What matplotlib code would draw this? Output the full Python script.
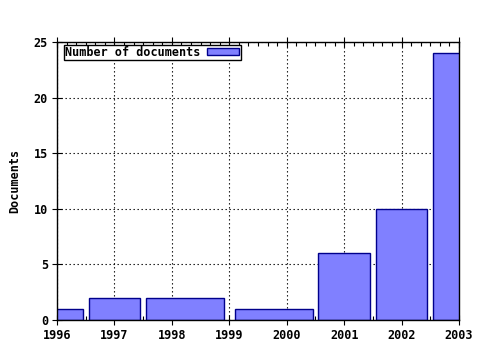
import matplotlib.pyplot as plt
import numpy as np

years = [1996, 1997, 1998.23, 1999.78, 2001, 2002, 2003]
widths = [0.9, 0.9, 1.36, 1.36, 0.9, 0.9, 0.9]
documents = [1, 2, 2, 1, 6, 10, 24]
year_ticks = [1996, 1997, 1998, 1999, 2000, 2001, 2002, 2003]
doc_ticks = [0, 5, 10, 15, 20, 25]

font = {'family': 'DejaVu Sans Mono', 'weight': 'bold', 'size': 8.5}
plt.rcParams['font.family'] = 'DejaVu Sans Mono'
plt.rcParams['font.weight'] = 'bold'
plt.rcParams['font.size'] = 8.5

fig = plt.figure(figsize=(4.8, 3.5), dpi=100)
ax = fig.add_axes([57/480, 1 - 320/350, 402/480, 278/350])

ax.bar(years, documents, width=widths, color='#8080ff', edgecolor='#00008b',
       linewidth=1, label='Number of documents', zorder=3)

ax.set_xlim(1996, 2003)
ax.set_ylim(0, 25)
ax.set_xticks(year_ticks)
ax.set_xticklabels([str(y) for y in year_ticks])
ax.set_yticks(doc_ticks)
ax.set_xticks(np.arange(1996, 2003.01, 1/6), minor=True)

ax.grid(True, which='major', color='black', linestyle=(0, (1.2, 2.4)), linewidth=0.8, zorder=1)
ax.tick_params(which='major', direction='inout', length=7, width=0.8,
               top=True, right=False, labelsize=8.5, pad=3)
ax.tick_params(axis='x', which='minor', direction='in', length=3, width=0.8, top=True)
for s in ax.spines.values():
    s.set_linewidth(1)
    s.set_zorder(4)

ax.set_ylabel('Documents', fontdict=font, labelpad=9)

leg = ax.legend(loc='upper left', bbox_to_anchor=(0.017, 0.99), markerfirst=False,
                frameon=True, fancybox=False, edgecolor='black', handlelength=2.7,
                handleheight=0.5, borderpad=0.1, borderaxespad=0, handletextpad=0.6,
                prop={'family': 'DejaVu Sans Mono', 'weight': 'bold', 'size': 8.5})
leg.get_frame().set_linewidth(1)
leg.get_frame().set_alpha(1)
leg.set_zorder(5)

plt.savefig('out.png', dpi=100)
